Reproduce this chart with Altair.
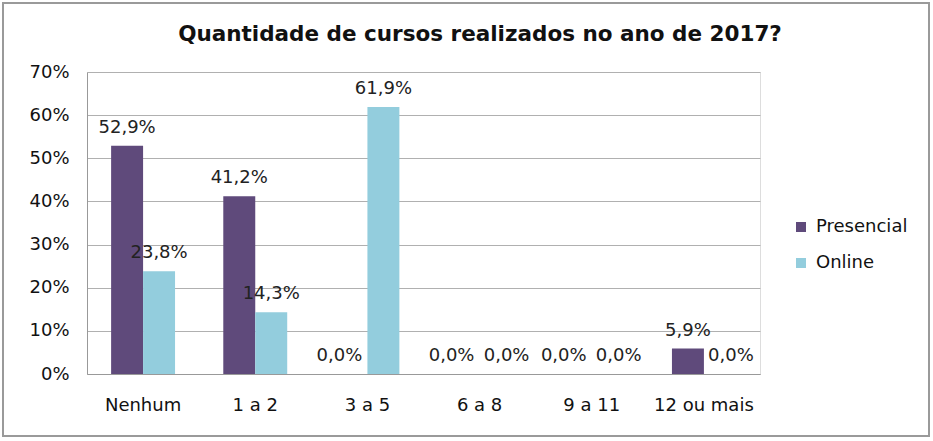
import altair as alt
import pandas as pd

title_text = "Quantidade de cursos realizados no ano de 2017?"
categories = ["Nenhum", "1 a 2", "3 a 5", "6 a 8", "9 a 11", "12 ou mais"]
presencial = [52.9, 41.2, 0.0, 0.0, 0.0, 5.9]
online = [23.8, 14.3, 61.9, 0.0, 0.0, 0.0]
series = ["Presencial", "Online"]
colors = ["#5F4A7B", "#93CDDD"]

rows = []
for c, p, o in zip(categories, presencial, online):
    for s, v in zip(series, [p, o]):
        rows.append({"cat": c, "serie": s, "val": v / 100.0,
                     "lbl": f"{v:.1f}".replace(".", ",") + "%"})
df = pd.DataFrame(rows)

FONT = "DejaVu Sans"

xenc = alt.X("cat:N", sort=categories, title=None,
             scale=alt.Scale(paddingInner=0.43, paddingOuter=0.215),
             axis=alt.Axis(labelAngle=0, labelFontSize=18, labelColor="#111",
                           labelPadding=22, ticks=False, domainColor="#999",
                           labelFont=FONT))
yenc = alt.Y("val:Q", title=None,
             scale=alt.Scale(domain=[0, 0.7]),
             axis=alt.Axis(format=".0%", values=[0, .1, .2, .3, .4, .5, .6, .7],
                           labelFontSize=18, labelColor="#111", labelPadding=18,
                           ticks=False, domainColor="#999", gridColor="#B0B0B0",
                           labelFont=FONT))

base = alt.Chart(df)
bars = base.mark_bar().encode(
    x=xenc, y=yenc,
    xOffset=alt.XOffset("serie:N", sort=series),
    color=alt.Color("serie:N", sort=series,
                    scale=alt.Scale(domain=series, range=colors),
                    legend=alt.Legend(title=None, orient="none", legendX=705, legendY=146,
                                      labelFontSize=18, labelFont=FONT, labelColor="#111",
                                      symbolType="square", symbolSize=100, labelOffset=6,
                                      symbolStrokeWidth=0, rowPadding=18)),
)


def labels(flt, dx):
    return base.transform_filter(flt).mark_text(
        dy=-13, dx=dx, fontSize=18, font=FONT, color="#222", baseline="alphabetic"
    ).encode(
        x=alt.X("cat:N", sort=categories),
        y="val:Q",
        xOffset=alt.XOffset("serie:N", sort=series),
        text="lbl:N",
    )


text_main = labels("datum.val > 0", 0)
text_zero_p = labels("datum.val == 0 && datum.serie == 'Presencial'", -12)
text_zero_o = labels("datum.val == 0 && datum.serie == 'Online'", 11)

frame = alt.Chart(pd.DataFrame({"a": [0]})).mark_rect(
    fill=None, stroke="#9A9A9A", strokeWidth=2
).encode(x=alt.value(-84), x2=alt.value(842), y=alt.value(-69), y2=alt.value(364))

title = alt.Chart(pd.DataFrame({"t": [title_text]})).mark_text(
    fontSize=21.5, font=FONT, fontWeight="bold", color="#111",
    baseline="alphabetic", align="center"
).encode(x=alt.value(393), y=alt.value(-31), text="t:N")

chart = alt.layer(frame, bars, text_main, text_zero_p, text_zero_o, title).properties(
    width=673, height=302,
    padding={"left": 87, "top": 72, "right": 173, "bottom": 67},
    autosize=alt.AutoSizeParams(type="none"),
).configure_view(stroke=None).configure(background="white")

chart.save("out.html", embed_options={"renderer": "svg", "actions": False})
